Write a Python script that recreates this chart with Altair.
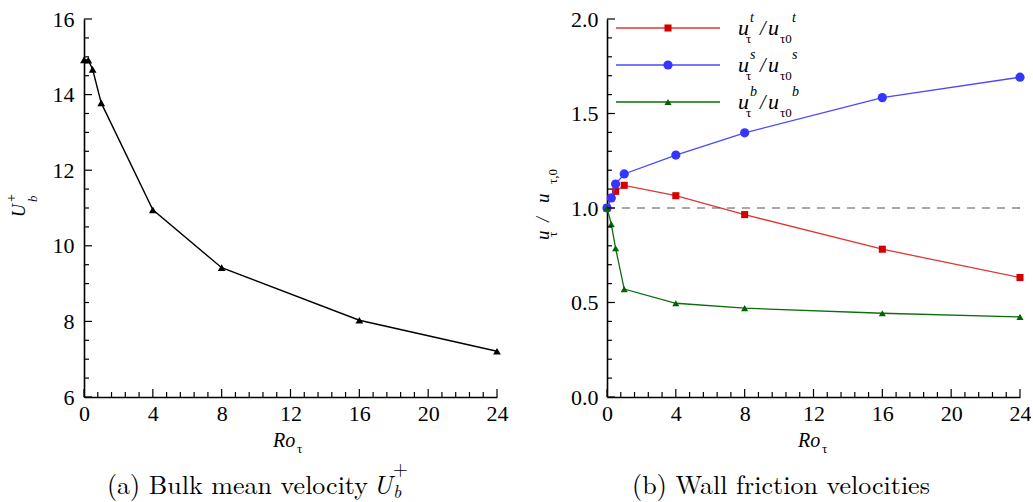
import altair as alt
import pandas as pd

# ---------------- data ----------------
ro_a = [0, 0.25, 0.5, 1, 4, 8, 16, 24]
ub_plus = [14.92, 14.91, 14.67, 13.78, 10.95, 9.42, 8.03, 7.21]

ro_b = [0, 0.25, 0.5, 1, 4, 8, 16, 24]
ut_top = [1.0, 1.055, 1.088, 1.12, 1.065, 0.965, 0.782, 0.632]
ut_side = [1.0, 1.053, 1.127, 1.18, 1.28, 1.398, 1.584, 1.692]
ut_bottom = [1.0, 0.915, 0.787, 0.571, 0.496, 0.47, 0.443, 0.424]

x_major = [0, 4, 8, 12, 16, 20, 24]
x_minor = [round(0.8 * k, 2) for k in range(1, 31) if k % 5 != 0]
ya_major = [6, 8, 10, 12, 14, 16]
ya_minor = [6.5, 7, 7.5, 8.5, 9, 9.5, 10.5, 11, 11.5, 12.5, 13, 13.5, 14.5, 15, 15.5]
yb_major = [0, 0.5, 1.0, 1.5, 2.0]
yb_minor = [round(0.1 * k, 2) for k in range(1, 20) if k % 5 != 0]

SERIF = "Liberation Serif"
CAP = "Latin Modern Roman"
W, H = 413, 378
MAJ, MIN = 8, 5

dummy = pd.DataFrame({"d": [0]})


def txt(s, x, y, size, italic=False, align="left", angle=0, font=SERIF, baseline="alphabetic"):
    kw = dict(text=s, font=font, fontSize=size, align=align, baseline=baseline, color="black")
    if italic:
        kw["fontStyle"] = "italic"
    if angle:
        kw["angle"] = angle
    return alt.Chart(dummy).mark_text(**kw).encode(x=alt.value(x), y=alt.value(y))


def ticks(xsc, ysc, xmaj, xmin, ymaj, ymin):
    layers = []
    for vals, ln in ((xmaj, MAJ), (xmin, MIN)):
        layers.append(
            alt.Chart(pd.DataFrame({"v": vals})).mark_rule(color="black", strokeWidth=1.2).encode(
                x=alt.X("v:Q", scale=xsc), y=alt.value(H), y2=alt.value(H - ln)
            )
        )
    for vals, ln in ((ymaj, MAJ), (ymin, MIN)):
        layers.append(
            alt.Chart(pd.DataFrame({"v": vals})).mark_rule(color="black", strokeWidth=1.2).encode(
                y=alt.Y("v:Q", scale=ysc), x=alt.value(0), x2=alt.value(ln)
            )
        )
    return layers


x_axis = alt.Axis(values=x_major, title=None, ticks=False, grid=False, labelFlush=False,
                  labelPadding=6, format="d")

# ---------------- panel (a) ----------------
xsc_a = alt.Scale(domain=[0, 24], nice=False, zero=False)
ysc_a = alt.Scale(domain=[6, 16], nice=False, zero=False)
df_a = pd.DataFrame({"ro": ro_a, "ub": ub_plus})

line_a = alt.Chart(df_a).mark_line(color="black", strokeWidth=1.4).encode(
    x=alt.X("ro:Q", scale=xsc_a, axis=x_axis),
    y=alt.Y("ub:Q", scale=ysc_a, axis=alt.Axis(values=ya_major, title=None, ticks=False, grid=False,
                                                labelFlush=False, labelPadding=10, format="d")),
)
pts_a = alt.Chart(df_a).mark_point(shape="triangle-up", filled=True, color="black", opacity=1, size=60).encode(
    x=alt.X("ro:Q", scale=xsc_a), y=alt.Y("ub:Q", scale=ysc_a)
)

texts_a = [
    txt("Ro", 189, 428, 20, italic=True),
    txt("τ", 213, 434, 13),
    txt("U", -59, 198, 18, italic=True, angle=270),
    txt("b", -47, 183, 13, italic=True, angle=270),
    txt("+", -68, 183, 14, angle=270),
    txt("(a) Bulk mean velocity", 284, 475, 26, font=CAP, align="right"),
    txt("U", 289, 475, 26, italic=True, font=CAP),
    txt("b", 309, 479, 18, italic=True, font=CAP),
    txt("+", 309, 456, 19, font=CAP),
]

panel_a = alt.layer(
    line_a, pts_a, *ticks(xsc_a, ysc_a, x_major, x_minor, ya_major, ya_minor), *texts_a
).properties(width=W, height=H)

# ---------------- panel (b) ----------------
xsc_b = alt.Scale(domain=[0, 24], nice=False, zero=False)
ysc_b = alt.Scale(domain=[0, 2], nice=False, zero=False)

series = [
    ("t", ut_top, "#d40000", "#e03535", "square", 50),
    ("s", ut_side, "#3535ff", "#4848ff", "circle", 85),
    ("b", ut_bottom, "#006400", "#0b6e0b", "triangle-up", 50),
]

layers_b = []
first = True
for name, vals, mcol, lcol, shape, size in series:
    df = pd.DataFrame({"ro": ro_b, "u": vals})
    if first:
        xe = alt.X("ro:Q", scale=xsc_b, axis=x_axis)
        ye = alt.Y("u:Q", scale=ysc_b, axis=alt.Axis(values=yb_major, title=None, ticks=False, grid=False,
                                                     labelFlush=False, labelPadding=9, format=".1f"))
        first = False
    else:
        xe = alt.X("ro:Q", scale=xsc_b)
        ye = alt.Y("u:Q", scale=ysc_b)
    layers_b.append(alt.Chart(df).mark_line(color=lcol, strokeWidth=1.3).encode(x=xe, y=ye))
    layers_b.append(alt.Chart(df).mark_point(shape=shape, filled=True, color=mcol, opacity=1, size=size).encode(
        x=alt.X("ro:Q", scale=xsc_b), y=alt.Y("u:Q", scale=ysc_b)))

ref = alt.Chart(pd.DataFrame({"ro": [0], "ro2": [24], "one": [1.0]})).mark_rule(
    color="#555555", strokeWidth=1.2, strokeDash=[8, 7]
).encode(x=alt.X("ro:Q", scale=xsc_b), x2="ro2:Q", y=alt.Y("one:Q", scale=ysc_b))

legend_rows = [9, 46, 83]
legend_layers = []
for (name, vals, mcol, lcol, shape, size), ly in zip(series, legend_rows):
    legend_layers.append(alt.Chart(dummy).mark_rule(color=lcol, strokeWidth=1.3).encode(
        x=alt.value(9), x2=alt.value(113), y=alt.value(ly)))
    legend_layers.append(alt.Chart(dummy).mark_point(shape=shape, filled=True, color=mcol, opacity=1, size=size).encode(
        x=alt.value(61), y=alt.value(ly)))
    base = ly + 7
    legend_layers += [
        txt("u", 131, base, 22, italic=True),
        txt(name, 143, base - 13, 14, italic=True),
        txt("τ", 139, base + 8, 13),
        txt("/", 153, base, 20, italic=True),
        txt("u", 161, base, 22, italic=True),
        txt("τ0", 173, base + 8, 13),
        txt(name, 185, base - 13, 14, italic=True),
    ]

texts_b = [
    txt("Ro", 191, 428, 20, italic=True),
    txt("τ", 215, 434, 13),
    txt("u", -58, 221, 19, italic=True, angle=270),
    txt("τ", -50, 218, 13, angle=270),
    txt("/", -58, 203, 18, italic=True, angle=270),
    txt("u", -58, 184, 19, italic=True, angle=270),
    txt("τ,0", -50, 165, 13, angle=270),
    txt("(b) Wall friction velocities", 174, 475, 26, font=CAP, align="center"),
]

panel_b = alt.layer(
    *layers_b[:1], ref, *layers_b[1:],
    *ticks(xsc_b, ysc_b, x_major, x_minor, yb_major, yb_minor),
    *legend_layers, *texts_b
).properties(width=W, height=H)

chart = alt.hconcat(panel_a, panel_b, spacing=110, bounds="flush").properties(
    padding={"left": 5, "top": 8, "right": 0, "bottom": 2}
).configure_view(strokeWidth=0).configure_axis(
    domainColor="black", domainWidth=1.6, labelFont=SERIF, labelFontSize=22, labelColor="black"
)

chart.save("out.html", embed_options={"renderer": "svg", "actions": False})
